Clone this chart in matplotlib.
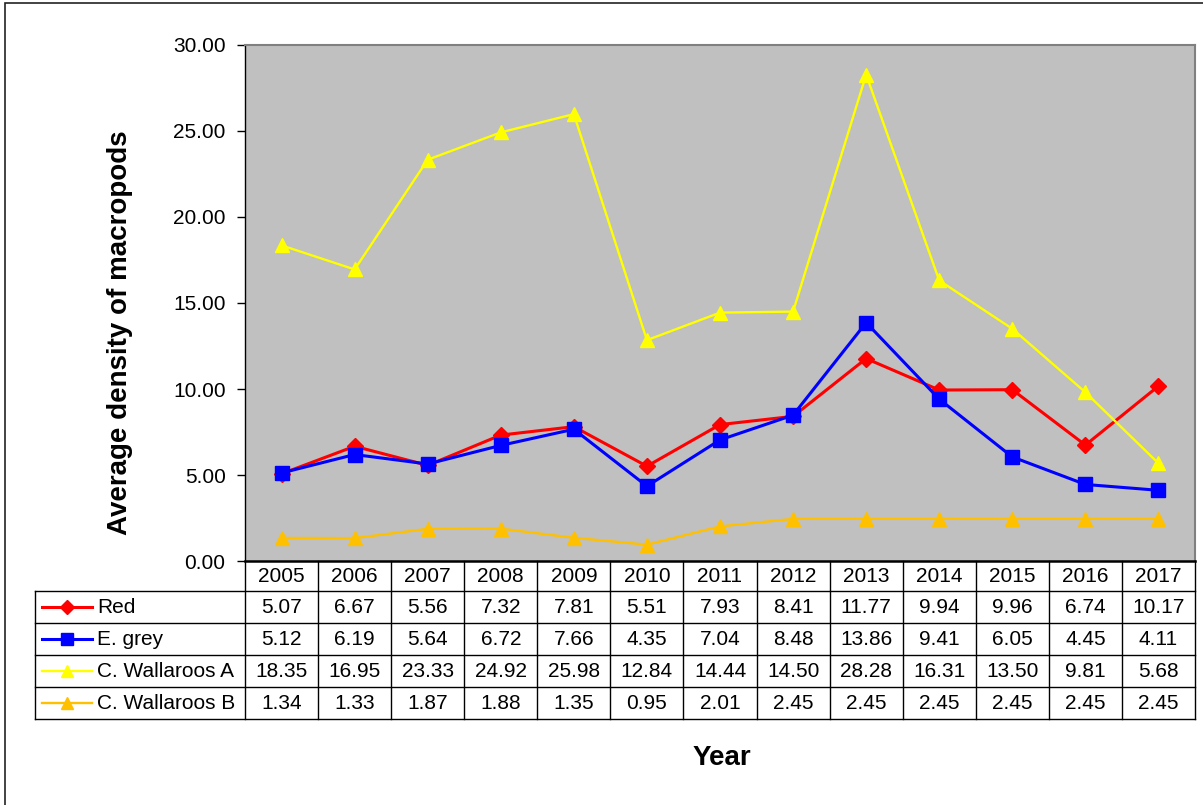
import numpy as np
import matplotlib.pyplot as plt
from matplotlib.lines import Line2D

plt.rcParams['font.family'] = ['Liberation Sans', 'DejaVu Sans']

# data (values from the data table)
years = ['2005', '2006', '2007', '2008', '2009', '2010', '2011',
         '2012', '2013', '2014', '2015', '2016', '2017']
red = [5.07, 6.67, 5.56, 7.32, 7.81, 5.51, 7.93, 8.41, 11.77, 9.94, 9.96, 6.74, 10.17]
grey = [5.12, 6.19, 5.64, 6.72, 7.66, 4.35, 7.04, 8.48, 13.86, 9.41, 6.05, 4.45, 4.11]
wal_a = [18.35, 16.95, 23.33, 24.92, 25.98, 12.84, 14.44, 14.50, 28.28, 16.31, 13.50, 9.81, 5.68]
wal_b = [1.34, 1.33, 1.87, 1.88, 1.35, 0.95, 2.01, 2.45, 2.45, 2.45, 2.45, 2.45, 2.45]

series_names = ['Red', 'E. grey', 'C. Wallaroos A', 'C. Wallaroos B']
series_vals = [red, grey, wal_a, wal_b]
styles = [
    dict(color='#FF0000', marker='D', ms=8.5, lw=2.2),
    dict(color='#0000FF', marker='s', ms=10, lw=2.2),
    dict(color='#FFFF00', marker='^', ms=10.5, lw=1.7),
    dict(color='#FFC000', marker='^', ms=10.5, lw=1.7),
]

W, H = 1203, 805
fig = plt.figure(figsize=(W / 100, H / 100), dpi=100)

def fy(py):
    return 1 - py / H

# outer chart border (only top and left visible)
fig.add_artist(plt.Rectangle((5 / W, -0.1), 1.2, fy(3) + 0.1, transform=fig.transFigure,
                             fill=False, ec='#222222', lw=1.2))

# main plot area
ax = fig.add_axes([245 / W, fy(561), 950 / W, 516 / H])
ax.set_facecolor('#C0C0C0')
x = np.arange(len(years))
for name, vals, st in zip(series_names, series_vals, styles):
    ax.plot(x, vals, color=st['color'], marker=st['marker'], markersize=st['ms'],
            lw=st['lw'], markeredgecolor=st['color'], markeredgewidth=1, clip_on=False)

ax.set_xlim(-0.5, len(years) - 0.5)
ax.set_ylim(0, 30)
ax.set_yticks(np.arange(0, 31, 5))
ax.set_yticklabels(['%.2f' % v for v in np.arange(0, 31, 5)])
ax.set_xticks([])
ax.tick_params(axis='y', direction='out', length=6, width=1, labelsize=15, pad=8)
for s in ['top', 'right']:
    ax.spines[s].set_color('#808080')
    ax.spines[s].set_linewidth(1.5)
ax.spines['left'].set_color('black')
ax.spines['left'].set_linewidth(1)
ax.spines['bottom'].set_color('black')
ax.spines['bottom'].set_linewidth(1.8)

# data table below the plot
ppu = 950 / len(years)          # pixels per category
xl = -0.5 - 210 / ppu           # left edge of legend column
xr = len(years) - 0.5
tab = fig.add_axes([35 / W, fy(719), 1160 / W, 158 / H])
tab.set_xlim(xl, xr)
tab.set_ylim(158, 0)
tab.axis('off')
row_edges = [0, 30, 62, 94, 126, 158]

for k in range(len(years) + 1):
    tab.plot([k - 0.5, k - 0.5], [0, 158], color='black', lw=1, clip_on=False)
tab.plot([xl, xl], [30, 158], color='black', lw=1, clip_on=False)
for e in row_edges[1:]:
    tab.plot([xl, xr], [e, e], color='black', lw=1, clip_on=False)

for i, yr in enumerate(years):
    tab.text(i, 15, yr, ha='center', va='center', fontsize=15)

for r, (name, vals, st) in enumerate(zip(series_names, series_vals, styles)):
    yc = (row_edges[r + 1] + row_edges[r + 2]) / 2
    for i, v in enumerate(vals):
        tab.text(i, yc, '%.2f' % v, ha='center', va='center', fontsize=15)
    x0 = xl + 7 / ppu
    x1 = xl + 57 / ppu
    tab.add_line(Line2D([x0, x1], [yc, yc], color=st['color'], lw=st['lw'], clip_on=False))
    tab.add_line(Line2D([(x0 + x1) / 2], [yc], color=st['color'], marker=st['marker'],
                        markersize=st['ms'] * 0.85, markeredgecolor=st['color'], clip_on=False))
    tab.text(xl + 62 / ppu, yc, name, ha='left', va='center', fontsize=15)

# axis titles
fig.text(120 / W, fy(333), 'Average density of macropods', rotation=90,
         ha='center', va='center', fontsize=20, fontweight='bold')
fig.text(722 / W, fy(765), 'Year', ha='center', va='baseline',
         fontsize=20, fontweight='bold')

fig.savefig('out.png', dpi=100)
